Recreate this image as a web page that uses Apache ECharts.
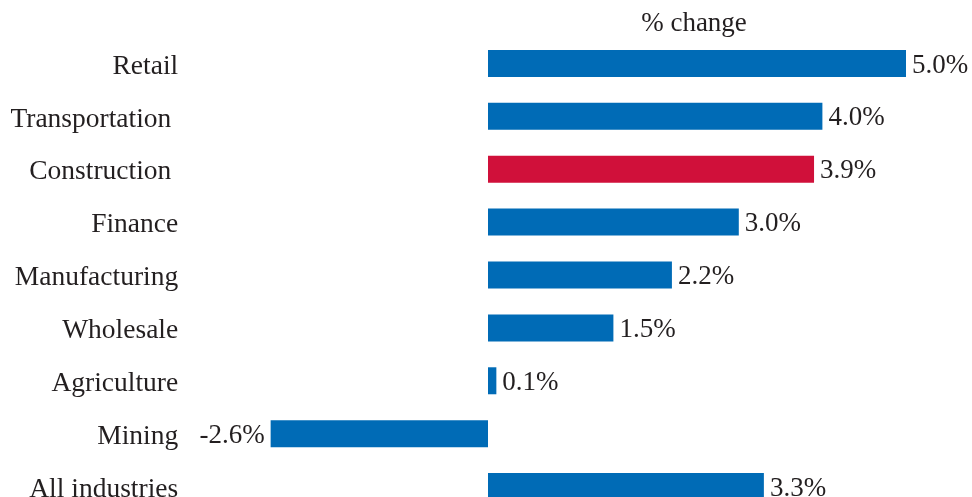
<!DOCTYPE html>
<html>
<head>
<meta charset="utf-8">
<script src="https://cdn.jsdelivr.net/npm/echarts@6/dist/echarts.min.js"></script>
<style>
  html, body { margin: 0; padding: 0; background: #ffffff; }
  #chart { width: 972px; height: 497px; }
</style>
</head>
<body>
<div id="chart"></div>
<script>
// Percent change by industry
const categories = ['Retail', 'Transportation ', 'Construction ', 'Finance', 'Manufacturing',
                    'Wholesale', 'Agriculture', 'Mining', 'All industries'];
const changes = [5.0, 4.0, 3.9, 3.0, 2.2, 1.5, 0.1, -2.6, 3.3];
const highlighted = 'Construction ';
const axisTitle = '% change';

const BLUE = '#006bb6';
const RED = '#d0103a';
const INK = '#231f20';
const FONT = '"Liberation Serif", "Times New Roman", serif';

const chart = echarts.init(document.getElementById('chart'), null, { renderer: 'canvas' });

const barData = changes.map((v, i) => ({
  value: v,
  itemStyle: { color: categories[i] === highlighted ? RED : BLUE },
  label: { position: v < 0 ? 'left' : 'right' }
}));

chart.setOption({
  animation: false,
  backgroundColor: '#ffffff',
  title: {
    text: axisTitle,
    left: 689,
    top: 5,
    textAlign: 'center',
    textStyle: { fontFamily: FONT, fontSize: 27, fontWeight: 'normal', color: INK }
  },
  grid: {
    left: 237.2, top: 37, width: 710.6, height: 476,
    containLabel: false,
    outerBoundsMode: 'none'
  },
  xAxis: {
    type: 'value',
    min: -3,
    max: 5.5,
    show: false
  },
  yAxis: {
    type: 'category',
    data: categories,
    inverse: true,
    axisLine: { show: false },
    axisTick: { show: false },
    splitLine: { show: false },
    axisLabel: {
      margin: 59,
      color: INK,
      formatter: v => '{c|' + v + '}',
      rich: {
        c: {
          fontFamily: FONT,
          fontSize: 27.5,
          color: INK,
          padding: [6, 0, 0, 0]
        }
      }
    }
  },
  series: [{
    type: 'bar',
    data: barData,
    barWidth: 27,
    label: {
      show: true,
      distance: 6,
      offset: [0, 2],
      fontFamily: FONT,
      fontSize: 27,
      color: INK,
      formatter: p => p.value.toFixed(1) + '%'
    }
  }]
});
</script>
</body>
</html>
